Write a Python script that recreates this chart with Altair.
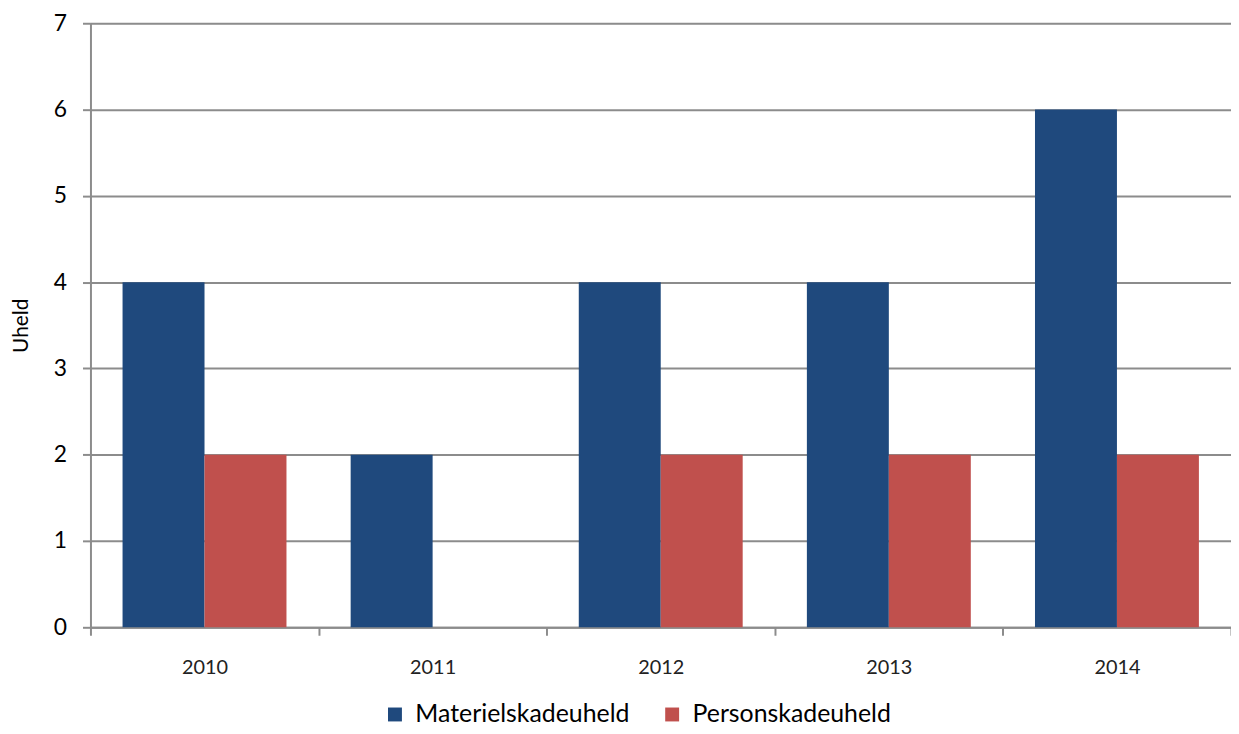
import altair as alt
import pandas as pd

years = ["2010", "2011", "2012", "2013", "2014"]
materiel = [4, 2, 4, 4, 6]
person = [2, 0, 2, 2, 2]
series = ["Materielskadeuheld", "Personskadeuheld"]
colors = ["#1F497D", "#C0504D"]

rows = []
for i, y in enumerate(years):
    rows.append({"year": y, "serie": series[0], "value": materiel[i]})
    rows.append({"year": y, "serie": series[1], "value": person[i]})
df = pd.DataFrame(rows)

FONT = "Lato"
GRID = "#8C8C8C"

chart = alt.Chart(df).mark_bar().encode(
    x=alt.X("year:N", sort=years,
            scale=alt.Scale(paddingInner=0, paddingOuter=0),
            axis=alt.Axis(title=None, labelAngle=0, tickBand="extent",
                          labelFont=FONT, labelFontSize=20, labelColor="#222222",
                          labelPadding=23, tickSize=8, tickColor=GRID, tickWidth=2,
                          domainColor=GRID, domainWidth=2, grid=False)),
    xOffset=alt.XOffset("serie:N", sort=series,
                        scale=alt.Scale(paddingOuter=0.3916, paddingInner=0)),
    y=alt.Y("value:Q", scale=alt.Scale(domain=[0, 7], nice=False),
            axis=alt.Axis(title="Uheld", values=[0, 1, 2, 3, 4, 5, 6, 7],
                          titleFont=FONT, titleFontSize=21, titleFontWeight="normal",
                          titleColor="#000000", titlePadding=22,
                          labelFont=FONT, labelFontSize=23, labelColor="#000000",
                          labelPadding=16, tickSize=8, tickColor=GRID, tickWidth=2,
                          domainColor=GRID, domainWidth=2,
                          gridColor=GRID, gridWidth=2, gridOpacity=1)),
    color=alt.Color("serie:N", sort=series,
                    scale=alt.Scale(domain=series, range=colors),
                    legend=alt.Legend(title=None, orient="none", direction="horizontal",
                                      legendX=294, legendY=683,
                                      symbolType="square", symbolSize=196,
                                      symbolStrokeWidth=0, symbolOpacity=1,
                                      labelFont=FONT, labelFontSize=25, labelLimit=0,
                                      labelColor="#000000", columnPadding=30,
                                      labelOffset=8)),
).properties(
    width=1148, height=608,
    autosize=alt.AutoSizeParams(type="none"),
    padding={"left": 83, "top": 13, "right": 0, "bottom": 97},
).configure_view(stroke=None).configure(background="white")

chart.save("out.html", embed_options={"renderer": "svg", "actions": False})
